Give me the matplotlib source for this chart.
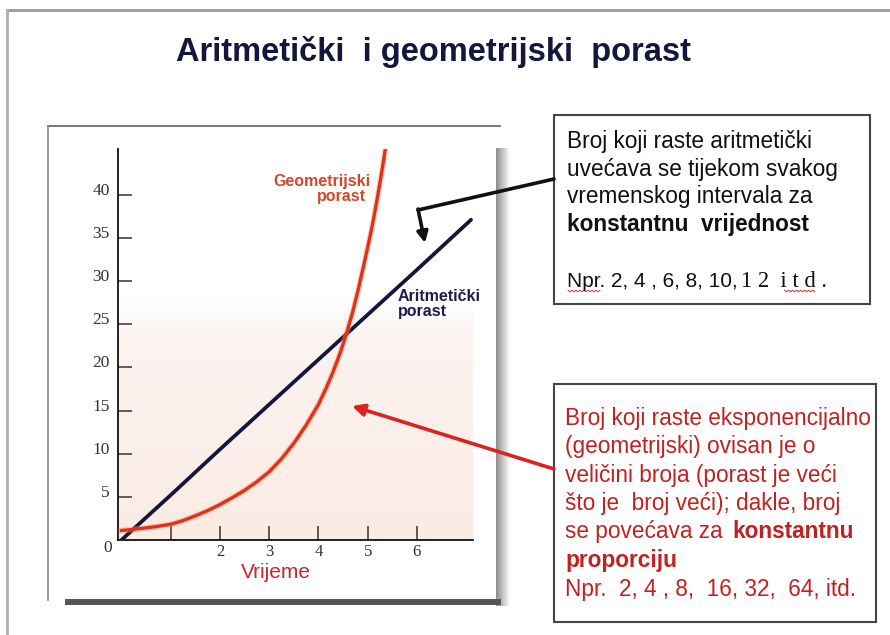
import numpy as np
import matplotlib
matplotlib.use('Agg')
import matplotlib.pyplot as plt
import matplotlib.transforms as mtransforms
from matplotlib.patches import Rectangle

W, H = 890, 635

# values
arit_x = [0, 1, 2, 3, 4, 5, 6, 7.1]
arit_y = [0, 5.2, 10.5, 15.7, 20.9, 26.1, 31.3, 37.1]
geo_x = [0, 0.25, 0.5, 0.75, 1, 1.25, 1.5, 1.75, 2, 2.25, 2.5, 2.75, 3,
         3.25, 3.5, 3.75, 4, 4.15, 4.3, 4.45, 4.58, 4.7, 4.8, 4.92, 5.05,
         5.12, 5.2, 5.28, 5.36]
geo_y = [1.1, 1.24, 1.4, 1.59, 1.82, 2.25, 2.8, 3.4, 4.1, 4.9, 5.75, 6.75,
         7.9, 9.4, 11.2, 13.3, 15.7, 17.5, 19.5, 21.8, 24.1, 26.5, 28.8,
         31.8, 35.2, 37.2, 39.7, 42.4, 45.3]
x_ticks = [1, 2, 3, 4, 5, 6]
x_labels = ['', '2', '3', '4', '5', '6']
y_ticks = [5, 10, 15, 20, 25, 30, 35, 40]

title = 'Aritmetički  i geometrijski  porast'
box1_lines = ['Broj koji raste aritmetički',
              'uvećava se tijekom svakog',
              'vremenskog intervala za']
box1_bold = 'konstantnu  vrijednost'
box1_npr = ('Npr. 2, 4 , 6, 8, 10,', '1 2  i t d .')
box2_lines = ['Broj koji raste eksponencijalno',
              '(geometrijski) ovisan je o',
              'veličini broja (porast je veći',
              'što je  broj veći); dakle, broj']
box2_mixed = ('se povećava za ', 'konstantnu')
box2_bold = 'proporciju'
box2_npr = 'Npr.  2, 4 , 8,  16, 32,  64, itd.'

SANS = ['Liberation Sans', 'DejaVu Sans']
SERIF = ['Liberation Serif', 'DejaVu Serif']
NAVY = '#15163c'
RED = '#e2301e'
DARKRED = '#c02222'

fig = plt.figure(figsize=(W / 100, H / 100), dpi=100)
fig.patch.set_facecolor('white')

# main chart axes, placed in pixels
ax = fig.add_axes([118 / W, (H - 540) / H, (473 - 118) / W, (540 - 149) / H])
ax.set_xlim(-0.07, 7.14)
ax.set_ylim(0, 45.3)
ax.patch.set_alpha(0)

# faint pinkish tint in the lower part of the plot
n = 120
t = np.linspace(0, 1, n)[:, None]
top_c = np.array([253, 244, 243]) / 255
bot_c = np.array([250, 236, 227]) / 255
rgb = top_c + (bot_c - top_c) * t
alpha = np.clip(t * 6, 0, 1)
img = np.dstack([np.repeat(rgb[:, None, :], 2, axis=1),
                 np.repeat(alpha, 2, axis=1)[:, :, None]])
ax.imshow(img, extent=[-0.07, 7.14, 0, 28], aspect='auto', zorder=0,
          interpolation='bilinear')

ax.plot(arit_x, arit_y, color=NAVY, lw=2.7, solid_capstyle='round', zorder=3)
ax.plot(geo_x, geo_y, color='#f39a60', lw=4.2, alpha=0.4, zorder=3.5,
        solid_joinstyle='round')
ax.plot(geo_x, geo_y, color=RED, lw=2.4, zorder=4, solid_joinstyle='round')

for s in ['top', 'right']:
    ax.spines[s].set_visible(False)
for s in ['left', 'bottom']:
    ax.spines[s].set_color('#111111')
    ax.spines[s].set_linewidth(1.3)

ax.set_xticks(x_ticks)
ax.set_xticklabels(x_labels, fontfamily=SERIF, fontsize=12, color='#333333')
ax.set_yticks(y_ticks)
ax.set_yticklabels([str(v) for v in y_ticks], fontfamily=SERIF, fontsize=12.5,
                   color='#333333')
ax.tick_params(axis='both', direction='in', length=10, width=1.1,
               color='#333333')
ax.tick_params(axis='x', pad=3)
ax.tick_params(axis='y', pad=6)
shift = mtransforms.ScaledTranslation(0, 0.06, fig.dpi_scale_trans)
for lab in ax.get_yticklabels():
    lab.set_transform(lab.get_transform() + shift)

# overlay axes in pixel coordinates for the slide decorations
ov = fig.add_axes([0, 0, 1, 1])
ov.set_xlim(0, W)
ov.set_ylim(H, 0)
ov.axis('off')
ov.patch.set_alpha(0)

# slide border
ov.plot([7, W], [10, 10], color='#9a9a9a', lw=2)
ov.plot([7, 7], [10, H], color='#b0b0b0', lw=2)

# scanned panel edges and shadow
ov.plot([48, 500], [126, 126], color='#777777', lw=1.4)
ov.plot([48, 48], [126, 600], color='#888888', lw=1.2)
sh = np.linspace(0, 1, 40)
shade = np.dstack([0.55 + 0.45 * sh] * 3)
ov.imshow(np.repeat(shade, 2, axis=0), extent=[496, 510, 606, 148],
          aspect='auto', zorder=1, interpolation='bilinear')
ov.add_patch(Rectangle((65, 599), 436, 6, color='#555555', lw=0, zorder=2))

# text boxes
ov.add_patch(Rectangle((554, 115), 316, 189, fill=False, ec='#444444', lw=1.5))
ov.add_patch(Rectangle((554, 384), 322, 238, fill=False, ec='#444444', lw=1.5))

ov.text(433, 52, title, ha='center', va='center', fontsize=23.5,
        fontweight='bold', color=NAVY, family=SANS)

# curve labels
ov.text(370, 186, 'Geometrijski', ha='right', va='baseline', fontsize=11.5,
        fontweight='bold', color='#d4462a', family=SANS)
ov.text(366, 201, 'porast', ha='right', va='baseline', fontsize=11.5,
        fontweight='bold', color='#d4462a', family=SANS)
ov.text(398, 301, 'Aritmetički', ha='left', va='baseline', fontsize=11.5,
        fontweight='bold', color='#1c1c50', family=SANS)
ov.text(398, 316, 'porast', ha='left', va='baseline', fontsize=11.5,
        fontweight='bold', color='#1c1c50', family=SANS)

ov.text(108, 548, '0', ha='center', va='center', fontsize=12.5,
        color='#333333', family=SERIF)
ov.text(276, 573, 'Vrijeme', ha='center', va='center', fontsize=15,
        color='#c8282a', family=SANS)

FS = 16.3
bx1 = 567
for yb, line in zip([148, 176, 203], box1_lines):
    ov.text(bx1, yb, line, fontsize=FS, va='baseline', color='#111111',
            family=SANS)
ov.text(bx1, 231, box1_bold, fontsize=FS, va='baseline', color='#111111',
        family=SANS, fontweight='bold')
t1 = ov.text(bx1, 287, box1_npr[0], fontsize=15, va='baseline',
             color='#111111', family=SANS)

bx2 = 565
for yb, line in zip([425, 453, 482, 510], box2_lines):
    ov.text(bx2, yb, line, fontsize=FS, va='baseline', color=DARKRED,
            family=SANS)
t2 = ov.text(bx2, 538, box2_mixed[0], fontsize=FS, va='baseline',
             color=DARKRED, family=SANS)
ov.text(bx2, 567, box2_bold, fontsize=FS, va='baseline', color=DARKRED,
        family=SANS, fontweight='bold')
ov.text(bx2, 596, box2_npr, fontsize=FS, va='baseline', color=DARKRED,
        family=SANS)

fig.canvas.draw()
r = fig.canvas.get_renderer()
e1 = t1.get_window_extent(r)
t3 = ov.text(e1.x1 + 3, 287, box1_npr[1], fontsize=FS, va='baseline',
             color='#111111', family=SERIF)
e2 = t2.get_window_extent(r)
ov.text(e2.x1 + 3, 538, box2_mixed[1], fontsize=FS, va='baseline',
        color=DARKRED, family=SANS, fontweight='bold')

# spell-check squiggles under "Npr" and "itd"
fig.canvas.draw()
e3 = t3.get_window_extent(r)
for x0, x1 in [(568, 601), (e3.x1 - 42, e3.x1 - 10)]:
    xs = np.arange(x0, x1, 2)
    ys = 291 + np.where(np.arange(len(xs)) % 2 == 0, -0.8, 0.8)
    ov.plot(xs, ys, color='#e03030', lw=0.7)

# arrows
ov.plot([554, 418], [179, 210], color='#111111', lw=2.6,
        solid_capstyle='round')
ov.annotate('', xy=(425, 243), xytext=(418, 209),
            arrowprops=dict(arrowstyle='-|>', lw=2.6, color='#111111',
                            mutation_scale=16, shrinkA=0, shrinkB=0))
ov.annotate('', xy=(352, 406), xytext=(554, 469),
            arrowprops=dict(arrowstyle='-|>', lw=2.6, color='#dd2020',
                            mutation_scale=18, shrinkA=0, shrinkB=0))

fig.savefig('out.png', dpi=100, facecolor='white')
